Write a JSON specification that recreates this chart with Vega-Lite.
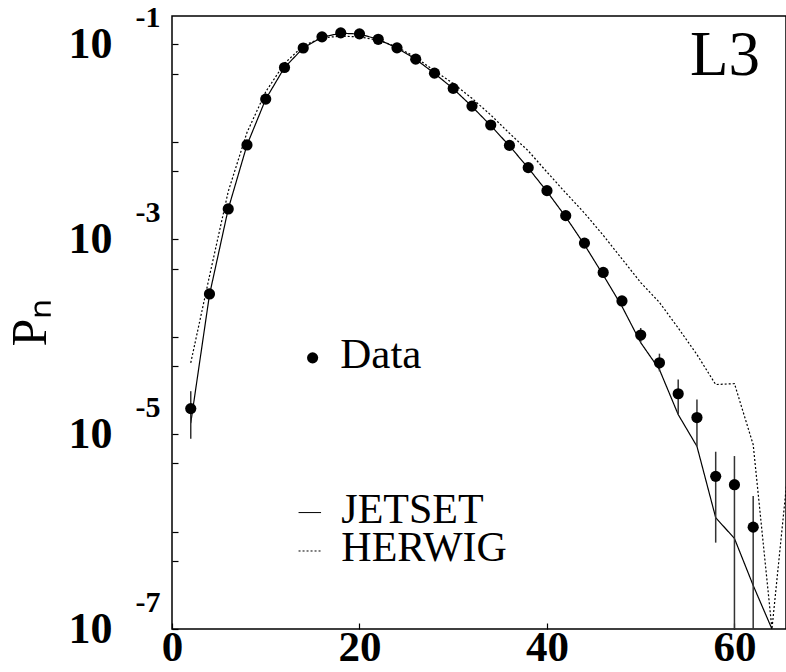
{
  "$schema": "https://vega.github.io/schema/vega-lite/v6.json",
  "width": 614,
  "height": 613,
  "autosize": "none",
  "padding": {"left": 172, "top": 16, "right": 0, "bottom": 43},
  "background": "white",
  "config": {
    "view": {"stroke": "black", "strokeWidth": 1.5},
    "font": "Liberation Serif",
    "axis": {"grid": false, "domain": false, "tickColor": "black", "labelColor": "black", "titleColor": "black", "labelFont": "Liberation Serif", "titleFont": "Liberation Serif"}
  },
  "datasets": {
    "one": [{}],
    "measured": [
      {"n": 2, "p": 1.83e-5, "lo": 8.97e-6, "hi": 2.76e-5},
      {"n": 4, "p": 2.75e-4},
      {"n": 6, "p": 2.05e-3},
      {"n": 8, "p": 9.3e-3},
      {"n": 10, "p": 0.0275},
      {"n": 12, "p": 0.058},
      {"n": 14, "p": 0.092},
      {"n": 16, "p": 0.1197},
      {"n": 18, "p": 0.1315},
      {"n": 20, "p": 0.1285},
      {"n": 22, "p": 0.113},
      {"n": 24, "p": 0.0923},
      {"n": 26, "p": 0.0707},
      {"n": 28, "p": 0.0508},
      {"n": 30, "p": 0.0354},
      {"n": 32, "p": 0.0233},
      {"n": 34, "p": 0.0149},
      {"n": 36, "p": 0.0092},
      {"n": 38, "p": 0.00544},
      {"n": 40, "p": 0.00316},
      {"n": 42, "p": 0.00175},
      {"n": 44, "p": 0.000914},
      {"n": 46, "p": 0.000457},
      {"n": 48, "p": 0.000233},
      {"n": 50, "p": 0.000104, "lo": 8.7e-5, "hi": 1.23e-4},
      {"n": 52, "p": 5.4e-5, "lo": 4.42e-5, "hi": 6.7e-5},
      {"n": 54, "p": 2.6e-5, "lo": 1.59e-5, "hi": 3.64e-5},
      {"n": 56, "p": 1.48e-5, "lo": 7.5e-6, "hi": 2.27e-5},
      {"n": 58, "p": 3.69e-6, "lo": 7.7e-7, "hi": 6.6e-6},
      {"n": 60, "p": 3.03e-6, "lo": 1e-7, "hi": 5.96e-6},
      {"n": 62, "p": 1.11e-6, "lo": 1e-7, "hi": 2.32e-6}
    ],
    "mc": [
      {"model": "JETSET", "n": 2, "p": 1.3e-5},
      {"model": "JETSET", "n": 4, "p": 2.7e-4},
      {"model": "JETSET", "n": 6, "p": 2.05e-3},
      {"model": "JETSET", "n": 8, "p": 9.3e-3},
      {"model": "JETSET", "n": 10, "p": 0.0275},
      {"model": "JETSET", "n": 12, "p": 0.058},
      {"model": "JETSET", "n": 14, "p": 0.092},
      {"model": "JETSET", "n": 16, "p": 0.119},
      {"model": "JETSET", "n": 18, "p": 0.1305},
      {"model": "JETSET", "n": 20, "p": 0.128},
      {"model": "JETSET", "n": 22, "p": 0.113},
      {"model": "JETSET", "n": 24, "p": 0.092},
      {"model": "JETSET", "n": 26, "p": 0.0705},
      {"model": "JETSET", "n": 28, "p": 0.0505},
      {"model": "JETSET", "n": 30, "p": 0.0352},
      {"model": "JETSET", "n": 32, "p": 0.0231},
      {"model": "JETSET", "n": 34, "p": 0.0147},
      {"model": "JETSET", "n": 36, "p": 0.0091},
      {"model": "JETSET", "n": 38, "p": 0.0054},
      {"model": "JETSET", "n": 40, "p": 0.0031},
      {"model": "JETSET", "n": 42, "p": 0.0017},
      {"model": "JETSET", "n": 44, "p": 0.00088},
      {"model": "JETSET", "n": 46, "p": 0.00043},
      {"model": "JETSET", "n": 48, "p": 0.000205},
      {"model": "JETSET", "n": 50, "p": 8.7e-5},
      {"model": "JETSET", "n": 52, "p": 4.6e-5},
      {"model": "JETSET", "n": 54, "p": 1.59e-5},
      {"model": "JETSET", "n": 56, "p": 7.5e-6},
      {"model": "JETSET", "n": 58, "p": 1.39e-6},
      {"model": "JETSET", "n": 60, "p": 8.5e-7},
      {"model": "JETSET", "n": 62, "p": 2.8e-7},
      {"model": "JETSET", "n": 64, "p": 1e-7},
      {"model": "HERWIG", "n": 2, "p": 5.4e-5},
      {"model": "HERWIG", "n": 4, "p": 4.2e-4},
      {"model": "HERWIG", "n": 6, "p": 3.1e-3},
      {"model": "HERWIG", "n": 8, "p": 0.0125},
      {"model": "HERWIG", "n": 10, "p": 0.0327},
      {"model": "HERWIG", "n": 12, "p": 0.0638},
      {"model": "HERWIG", "n": 14, "p": 0.097},
      {"model": "HERWIG", "n": 16, "p": 0.117},
      {"model": "HERWIG", "n": 18, "p": 0.1217},
      {"model": "HERWIG", "n": 20, "p": 0.1197},
      {"model": "HERWIG", "n": 22, "p": 0.1107},
      {"model": "HERWIG", "n": 24, "p": 0.0945},
      {"model": "HERWIG", "n": 26, "p": 0.0736},
      {"model": "HERWIG", "n": 28, "p": 0.0537},
      {"model": "HERWIG", "n": 30, "p": 0.0398},
      {"model": "HERWIG", "n": 32, "p": 0.028},
      {"model": "HERWIG", "n": 34, "p": 0.0189},
      {"model": "HERWIG", "n": 36, "p": 0.01225},
      {"model": "HERWIG", "n": 38, "p": 0.0081},
      {"model": "HERWIG", "n": 40, "p": 0.0049},
      {"model": "HERWIG", "n": 42, "p": 0.003},
      {"model": "HERWIG", "n": 44, "p": 0.00186},
      {"model": "HERWIG", "n": 46, "p": 0.0011},
      {"model": "HERWIG", "n": 48, "p": 0.00063},
      {"model": "HERWIG", "n": 50, "p": 0.00036},
      {"model": "HERWIG", "n": 52, "p": 0.000225},
      {"model": "HERWIG", "n": 54, "p": 0.000123},
      {"model": "HERWIG", "n": 56, "p": 6.56e-5},
      {"model": "HERWIG", "n": 58, "p": 3.23e-5},
      {"model": "HERWIG", "n": 60, "p": 3.3e-5},
      {"model": "HERWIG", "n": 62, "p": 7.8e-6},
      {"model": "HERWIG", "n": 64, "p": 1e-7},
      {"model": "HERWIG", "n": 66, "p": 8e-6}
    ]
  },
  "layer": [
    {
      "data": {"name": "mc"},
      "mark": {"type": "line", "color": "black", "strokeWidth": 1.2, "clip": true},
      "encoding": {
        "x": {"field": "n", "type": "quantitative",
          "scale": {"type": "linear", "domain": [0, 65.5], "zero": false, "nice": false},
          "axis": {"values": [0, 20, 40, 60], "title": null, "tickSize": -6, "tickWidth": 1.2, "labelFontSize": 43, "labelFontWeight": "bold", "labelPadding": 3, "labelFlush": false, "labelOverlap": false}},
        "y": {"field": "p", "type": "quantitative",
          "scale": {"type": "log", "domain": [1e-7, 0.196], "nice": false},
          "axis": {"orient": "left", "values": [1e-7, 5e-7, 1e-6, 5e-6, 1e-5, 5e-5, 1e-4, 5e-4, 1e-3, 5e-3, 1e-2, 5e-2, 1e-1],
            "tickSize": -6, "tickWidth": 1.2,
            "labelExpr": "abs(log(datum.value)/LN10 - round(log(datum.value)/LN10)) < 0.001 && round(log(datum.value)/LN10) % 2 != 0 ? '10' : ''",
            "labelFontSize": 44, "labelFontWeight": "bold", "labelPadding": 66, "labelFlush": false, "labelOverlap": false, "labelBaseline": "middle",
            "title": "Pₙ", "titleFontSize": 50, "titleFontWeight": "normal", "titleX": -127, "titleY": 306, "titleAngle": 270, "titleAlign": "center", "titleBaseline": "alphabetic"}},
        "strokeDash": {"field": "model", "type": "nominal",
          "scale": {"domain": ["JETSET", "HERWIG"], "range": [[1, 0], [2, 2]]}, "legend": null}
      }
    },
    {
      "data": {"name": "measured"},
      "transform": [{"filter": "isValid(datum.lo)"}],
      "mark": {"type": "rule", "color": "#333333", "strokeWidth": 1.5, "clip": true},
      "encoding": {
        "x": {"field": "n", "type": "quantitative", "scale": {"type": "linear", "domain": [0, 65.5], "zero": false, "nice": false}},
        "y": {"field": "lo", "type": "quantitative",
          "scale": {"type": "log", "domain": [1e-7, 0.196], "nice": false},
          "axis": {"orient": "left", "values": [1e-1, 1e-3, 1e-5, 1e-7], "ticks": false, "title": null,
            "labelExpr": "'' + round(log(datum.value)/LN10)",
            "labelFontSize": 30, "labelFontWeight": "bold", "labelPadding": 12, "labelOffset": -27, "labelFlush": false, "labelOverlap": false, "labelBaseline": "middle"}},
        "y2": {"field": "hi"}
      }
    },
    {
      "data": {"name": "measured"},
      "mark": {"type": "point", "filled": true, "color": "black", "size": 125, "opacity": 1},
      "encoding": {
        "x": {"field": "n", "type": "quantitative", "scale": {"type": "linear", "domain": [0, 65.5], "zero": false, "nice": false}},
        "y": {"field": "p", "type": "quantitative", "scale": {"type": "log", "domain": [1e-7, 0.196], "nice": false}, "axis": null}
      }
    },
    {
      "data": {"name": "one"},
      "mark": {"type": "point", "filled": true, "color": "black", "size": 125, "opacity": 1},
      "encoding": {
        "x": {"datum": 15.0, "type": "quantitative", "scale": {"type": "linear", "domain": [0, 65.5], "zero": false, "nice": false}},
        "y": {"datum": 6.07e-5, "type": "quantitative", "scale": {"type": "log", "domain": [1e-7, 0.196], "nice": false}, "axis": null}
      }
    },
    {
      "data": {"name": "one"},
      "mark": {"type": "text", "text": "Data", "align": "left", "baseline": "alphabetic", "fontSize": 43, "font": "Liberation Serif", "color": "black"},
      "encoding": {
        "x": {"datum": 17.95, "type": "quantitative", "scale": {"type": "linear", "domain": [0, 65.5], "zero": false, "nice": false}},
        "y": {"datum": 4.83e-5, "type": "quantitative", "scale": {"type": "log", "domain": [1e-7, 0.196], "nice": false}, "axis": null}
      }
    },
    {
      "data": {"name": "one"},
      "mark": {"type": "text", "text": "JETSET", "align": "left", "baseline": "alphabetic", "fontSize": 42, "font": "Liberation Serif", "color": "black"},
      "encoding": {
        "x": {"datum": 18.06, "type": "quantitative", "scale": {"type": "linear", "domain": [0, 65.5], "zero": false, "nice": false}},
        "y": {"datum": 1.216e-6, "type": "quantitative", "scale": {"type": "log", "domain": [1e-7, 0.196], "nice": false}, "axis": null}
      }
    },
    {
      "data": {"name": "one"},
      "mark": {"type": "text", "text": "HERWIG", "align": "left", "baseline": "alphabetic", "fontSize": 42, "font": "Liberation Serif", "color": "black"},
      "encoding": {
        "x": {"datum": 18.06, "type": "quantitative", "scale": {"type": "linear", "domain": [0, 65.5], "zero": false, "nice": false}},
        "y": {"datum": 5.0e-7, "type": "quantitative", "scale": {"type": "log", "domain": [1e-7, 0.196], "nice": false}, "axis": null}
      }
    },
    {
      "data": {"name": "one"},
      "mark": {"type": "rule", "color": "black", "strokeWidth": 1},
      "encoding": {
        "x": {"datum": 13.5, "type": "quantitative", "scale": {"type": "linear", "domain": [0, 65.5], "zero": false, "nice": false}},
        "x2": {"datum": 15.9},
        "y": {"datum": 1.567e-6, "type": "quantitative", "scale": {"type": "log", "domain": [1e-7, 0.196], "nice": false}, "axis": null}
      }
    },
    {
      "data": {"name": "one"},
      "mark": {"type": "rule", "color": "black", "strokeWidth": 1, "strokeDash": [2, 2]},
      "encoding": {
        "x": {"datum": 13.5, "type": "quantitative", "scale": {"type": "linear", "domain": [0, 65.5], "zero": false, "nice": false}},
        "x2": {"datum": 16.0},
        "y": {"datum": 6.32e-7, "type": "quantitative", "scale": {"type": "log", "domain": [1e-7, 0.196], "nice": false}, "axis": null}
      }
    },
    {
      "data": {"name": "one"},
      "mark": {"type": "text", "text": "L3", "align": "right", "baseline": "alphabetic", "fontSize": 63, "font": "Liberation Serif", "color": "black"},
      "encoding": {
        "x": {"datum": 62.73, "type": "quantitative", "scale": {"type": "linear", "domain": [0, 65.5], "zero": false, "nice": false}},
        "y": {"datum": 0.0484, "type": "quantitative", "scale": {"type": "log", "domain": [1e-7, 0.196], "nice": false}, "axis": null}
      }
    }
  ],
  "resolve": {"axis": {"y": "independent"}}
}
